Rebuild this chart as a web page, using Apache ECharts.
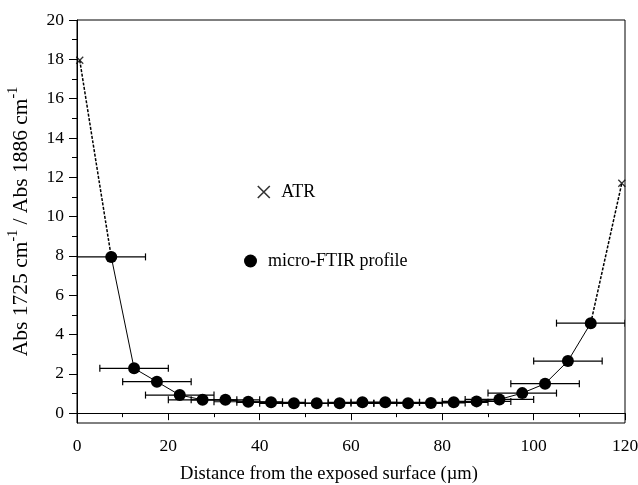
<!DOCTYPE html>
<html>
<head>
<meta charset="utf-8">
<script src="https://cdn.jsdelivr.net/npm/echarts@6/dist/echarts.min.js"></script>
<style>
  html, body { margin: 0; padding: 0; background: #fff; }
  #main { width: 638px; height: 485px; }
</style>
</head>
<body>
<div id="main"></div>
<script>
// micro-FTIR profile, depth (um) and ratio
var ftirX = [7.5, 12.5, 17.5, 22.5, 27.5, 32.5, 37.5, 42.5, 47.5, 52.5, 57.5,
             62.5, 67.5, 72.5, 77.5, 82.5, 87.5, 92.5, 97.5, 102.5, 107.5, 112.5];
var ftirY = [7.95, 2.28, 1.6, 0.92, 0.68, 0.68, 0.58, 0.55, 0.5, 0.5, 0.5,
             0.55, 0.55, 0.5, 0.52, 0.55, 0.6, 0.7, 1.02, 1.5, 2.65, 4.58];
var ftirErr = [7.5, 7.5, 7.5, 7.5, 7.5, 7.5, 7.5, 7.5, 7.5, 7.5, 7.5,
               7.5, 7.5, 7.5, 7.5, 7.5, 7.5, 7.5, 7.5, 7.5, 7.5, 7.5];
// ATR surface values
var atrX = [0.6, 119.3];
var atrY = [17.95, 11.7];

var yMajor = [0, 2, 4, 6, 8, 10, 12, 14, 16, 18, 20];
var yMinor = [1, 3, 5, 7, 9, 11, 13, 15, 17, 19];

var chart = echarts.init(document.getElementById('main'));
var font = 'Liberation Serif, Times New Roman, serif';

var ftirData = ftirX.map(function (x, i) { return [x, ftirY[i]]; });
var errData = ftirX.map(function (x, i) { return [x, ftirY[i], ftirErr[i]]; });
var atrData = atrX.map(function (x, i) { return [x, atrY[i]]; });
var n = ftirX.length;

var xPath = 'path://M0,0L10,10M10,0L0,10';

function renderErr(params, api) {
  var x = api.value(0), y = api.value(1), e = api.value(2);
  var a = api.coord([x - e, y]);
  var b = api.coord([x + e, y]);
  var h = 3.5;
  return {
    type: 'group',
    children: [
      { type: 'line', shape: { x1: a[0], y1: a[1], x2: b[0], y2: b[1] }, style: { stroke: '#000', lineWidth: 1.2 } },
      { type: 'line', shape: { x1: a[0], y1: a[1] - h, x2: a[0], y2: a[1] + h }, style: { stroke: '#000', lineWidth: 1.2 } },
      { type: 'line', shape: { x1: b[0], y1: b[1] - h, x2: b[0], y2: b[1] + h }, style: { stroke: '#000', lineWidth: 1.2 } }
    ]
  };
}

var option = {
  backgroundColor: '#fff',
  animation: false,
  textStyle: { fontFamily: font },
  grid: {
    left: 77, right: 13, top: 20, bottom: 62,
    outerBoundsMode: 'none', containLabel: false,
    show: true, borderColor: '#000', borderWidth: 1
  },
  legend: [
    {
      data: [{ name: 'ATR', icon: xPath }], left: 252, top: 178,
      itemWidth: 13, itemHeight: 12,
      itemStyle: { color: 'rgba(0,0,0,0)', borderColor: '#000', borderWidth: 1.6 },
      textStyle: { fontFamily: font, fontSize: 18, color: '#000', padding: [0, 0, 0, 6] }
    },
    {
      data: [{ name: 'micro-FTIR profile', icon: 'circle' }], left: 239, top: 247,
      itemWidth: 13, itemHeight: 13,
      textStyle: { fontFamily: font, fontSize: 18, color: '#000', padding: [0, 0, 0, 6] }
    }
  ],
  xAxis: {
    type: 'value', min: 0, max: 120, interval: 20,
    name: 'Distance from the exposed surface (\u00b5m)',
    nameLocation: 'middle', nameGap: 42,
    nameTextStyle: { fontFamily: font, fontSize: 18.5, color: '#000', padding: [0, 44, 0, 0] },
    axisLine: { lineStyle: { color: '#000', width: 1 } },
    axisTick: { length: 7, lineStyle: { color: '#000' } },
    minorTick: { show: true, splitNumber: 2, length: 4, lineStyle: { color: '#000' } },
    axisLabel: { fontFamily: font, fontSize: 17.5, color: '#000', margin: 14 },
    splitLine: { show: false }
  },
  yAxis: [
    {
      type: 'value', min: -0.5, max: 20,
      name: '{a|Abs 1725 cm}{s|-1}{a| / Abs 1886 cm}{s|-1}',
      nameLocation: 'middle', nameRotate: 90, nameGap: 45,
      nameTextStyle: {
        color: '#000',
        rich: {
          a: { fontFamily: font, fontSize: 21.5, color: '#000', lineHeight: 26, verticalAlign: 'bottom' },
          s: { fontFamily: font, fontSize: 14, color: '#000', lineHeight: 26, verticalAlign: 'top' }
        }
      },
      axisLine: { show: true, lineStyle: { color: '#000', width: 1 } },
      axisTick: { length: 8, customValues: yMajor, lineStyle: { color: '#000' } },
      axisLabel: { fontFamily: font, fontSize: 17.5, color: '#000', margin: 13, customValues: yMajor },
      splitLine: { show: false }
    },
    {
      type: 'value', min: -0.5, max: 20, position: 'left',
      axisLine: { show: false },
      axisTick: { length: 5, customValues: yMinor, lineStyle: { color: '#000' } },
      axisLabel: { show: false, customValues: [] },
      splitLine: { show: false }
    }
  ],
  series: [
    {
      name: 'err', type: 'custom', renderItem: renderErr, data: errData,
      clip: true, z: 1, silent: true
    },
    {
      name: 'atr-left', type: 'line', data: [atrData[0], ftirData[0]],
      symbol: 'none', z: 2,
      lineStyle: { color: '#000', width: 1.5, type: [3, 1.5] }
    },
    {
      name: 'atr-right', type: 'line', data: [ftirData[n - 1], atrData[1]],
      symbol: 'none', z: 2,
      lineStyle: { color: '#000', width: 1.5, type: [3, 1.5] }
    },
    {
      name: 'micro-FTIR profile', type: 'line', data: ftirData,
      symbol: 'circle', symbolSize: 12, z: 3,
      itemStyle: { color: '#000' },
      lineStyle: { color: '#000', width: 1 }
    },
    {
      name: 'ATR', type: 'scatter', data: atrData,
      symbol: xPath, symbolSize: 7, z: 4,
      itemStyle: { color: 'rgba(0,0,0,0)', borderColor: '#000', borderWidth: 1.3 }
    }
  ]
};
chart.setOption(option);
</script>
</body>
</html>
